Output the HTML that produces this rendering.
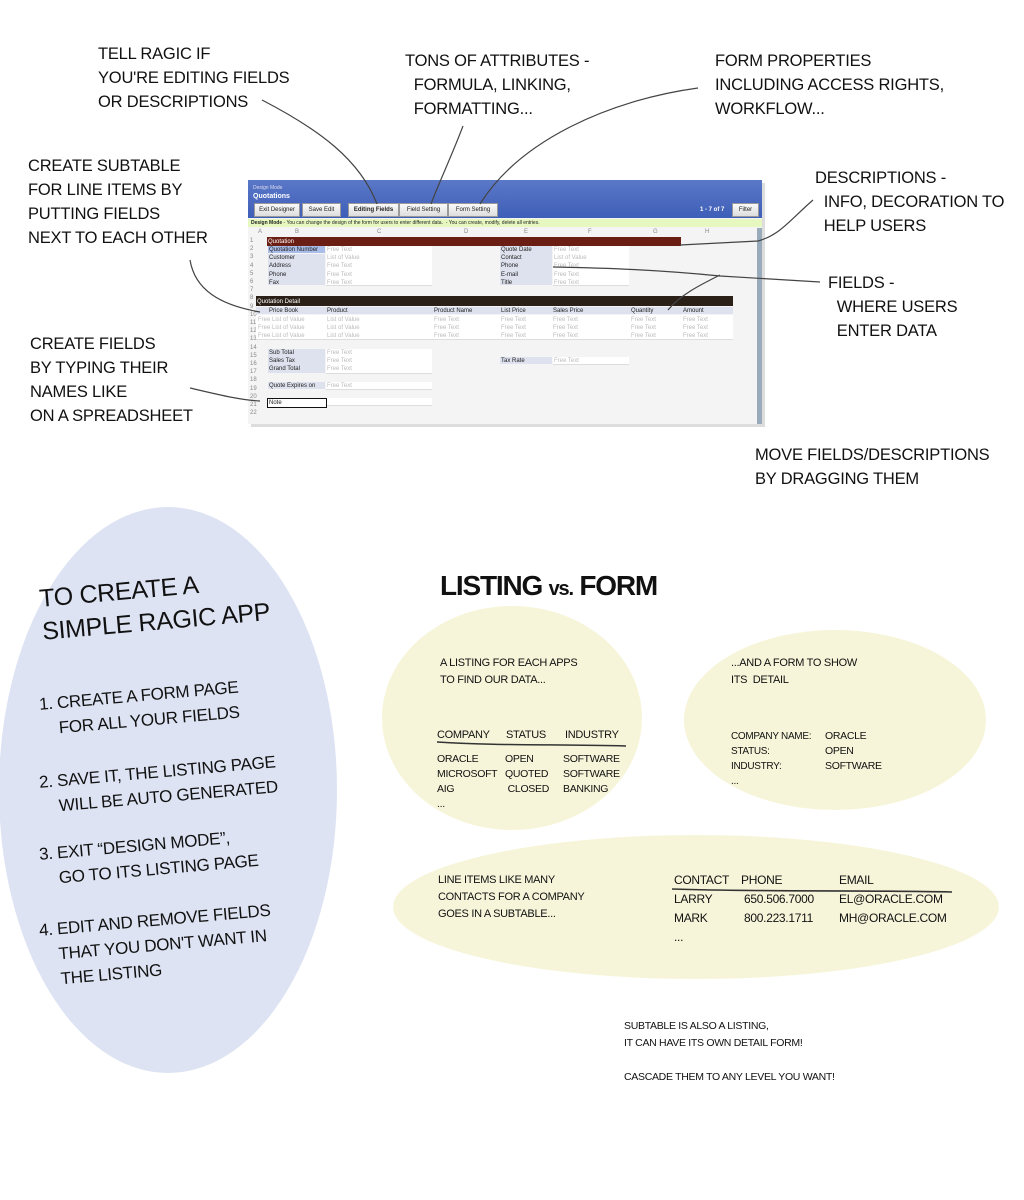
<!DOCTYPE html>
<html><head><meta charset="utf-8"><style>
body{margin:0;background:#fff}
#p{position:relative;width:1024px;height:1200px;overflow:hidden;font-family:"Liberation Sans",sans-serif;color:#111}
.t{position:absolute;font-size:16.5px;line-height:24px;white-space:pre;text-transform:uppercase;letter-spacing:-0.2px}
.s{position:absolute;font-size:11px;line-height:15px;white-space:pre;letter-spacing:-0.3px}
.ss{position:absolute;font-family:"Liberation Sans",sans-serif;font-size:6px;line-height:8.2px;white-space:pre;color:#222}
.g{color:#bbb}
.lb{position:absolute;background:#dde2ee;height:7px}
.fd{position:absolute;background:#fff;height:7px;border-bottom:1px solid #ddd}
.btn{position:absolute;top:203px;height:12px;background:linear-gradient(#fafafa,#ddd);border:1px solid #999;font-family:"Liberation Sans",sans-serif;font-size:6px;line-height:12px;text-align:center;color:#222}
.r{position:absolute;transform:rotate(-5deg);transform-origin:0 0;white-space:pre;letter-spacing:-0.3px}
</style></head><body><div id="p">
<svg width="1024" height="1200" style="position:absolute;left:0;top:0">
<ellipse cx="168" cy="790" rx="169" ry="283" fill="#dde3f3"/>
<ellipse cx="512" cy="718" rx="130" ry="112" fill="#f7f5d9"/>
<ellipse cx="835" cy="720" rx="151" ry="90" fill="#f7f5d9"/>
<ellipse cx="696" cy="907" rx="303" ry="72" fill="#f7f5d9"/>
<rect x="251" y="183" width="514" height="244" fill="#aaa" opacity="0.4"/>
</svg>
<div style="position:absolute;left:248px;top:180px;width:514px;height:244px;background:#f4f4f4;overflow:hidden">
<div style="position:absolute;left:0;top:0;width:514px;height:38px;background:linear-gradient(#5b78c8,#3e5fb8)"></div>
<div class="ss" style="left:5px;top:4px;color:#dde;font-size:5px">Design Mode</div>
<div class="ss" style="left:5px;top:13px;color:#fff;font-weight:bold;font-size:7px">Quotations</div>
<div class="ss" style="left:452px;top:26px;color:#fff;font-weight:bold">1 - 7 of 7</div>
<div style="position:absolute;left:0;top:39px;width:514px;height:8px;background:#e6f8c0"></div>
<div class="ss" style="left:3px;top:39px;font-size:5px"><b>Design Mode</b> - You can change the design of the form for users to enter different data.  - You can create, modify, delete all entries.</div>
<div style="position:absolute;left:509px;top:48px;width:5px;height:196px;background:#9ab"></div>
</div>
<div class="btn" style="left:254px;width:44px">Exit Designer</div>
<div class="btn" style="left:302px;width:37px">Save Edit</div>
<div class="btn" style="left:348px;width:49px"><b>Editing Fields</b></div>
<div class="btn" style="left:399px;width:47px">Field Setting</div>
<div class="btn" style="left:448px;width:48px">Form Setting</div>
<div class="btn" style="left:732px;width:25px">Filter</div>
<div class="ss g" style="left:258px;top:228px;color:#888">A</div><div class="ss" style="left:295px;top:228px;color:#888">B</div><div class="ss" style="left:377px;top:228px;color:#888">C</div><div class="ss" style="left:464px;top:228px;color:#888">D</div><div class="ss" style="left:524px;top:228px;color:#888">E</div><div class="ss" style="left:588px;top:228px;color:#888">F</div><div class="ss" style="left:653px;top:228px;color:#888">G</div><div class="ss" style="left:705px;top:228px;color:#888">H</div>
<div class="ss" style="left:250px;top:237px;color:#888">1<br>2<br>3<br>4<br>5<br>6<br>7<br>8<br>9<br>10<br>11<br>12<br>13<br>14<br>15<br>16<br>17<br>18<br>19<br>20<br>21<br>22</div>
<div style="position:absolute;left:267px;top:237px;width:414px;height:9px;background:#6b1e14"></div>
<div class="ss" style="left:268px;top:238px;color:#fff">Quotation</div>
<div style="position:absolute;left:256px;top:296px;width:477px;height:10px;background:#2a2018"></div>
<div class="ss" style="left:257px;top:298px;color:#fff">Quotation Detail</div>
<div class="lb" style="left:268px;top:246px;width:57px;background:#a9bde8"></div>
<div class="lb" style="left:268px;top:254px;width:57px;height:31px"></div>
<div class="fd" style="left:326px;top:246px;width:106px;height:39px"></div>
<div class="lb" style="left:500px;top:246px;width:52px;height:39px"></div>
<div class="fd" style="left:553px;top:246px;width:76px;height:39px"></div>
<div class="ss" style="left:269px;top:246px">Quotation Number<br>Customer<br>Address<br>Phone<br>Fax</div>
<div class="ss g" style="left:327px;top:246px">Free Text<br>List of Value<br>Free Text<br>Free Text<br>Free Text</div>
<div class="ss" style="left:501px;top:246px">Quote Date<br>Contact<br>Phone<br>E-mail<br>Title</div>
<div class="ss g" style="left:554px;top:246px">Free Text<br>List of Value<br>Free Text<br>Free Text<br>Free Text</div>
<div class="lb" style="left:256px;top:307px;width:477px"></div>
<div class="ss" style="left:269px;top:307px">Price Book</div><div class="ss" style="left:327px;top:307px">Product</div><div class="ss" style="left:434px;top:307px">Product Name</div><div class="ss" style="left:501px;top:307px">List Price</div><div class="ss" style="left:553px;top:307px">Sales Price</div><div class="ss" style="left:631px;top:307px">Quantity</div><div class="ss" style="left:683px;top:307px">Amount</div>
<div class="fd" style="left:256px;top:315px;width:477px;height:24px"></div>
<div class="ss g" style="left:258px;top:316px">Free List of Value<br>Free List of Value<br>Free List of Value</div>
<div class="ss g" style="left:327px;top:316px">List of Value<br>List of Value<br>List of Value</div>
<div class="ss g" style="left:434px;top:316px">Free Text<br>Free Text<br>Free Text</div>
<div class="ss g" style="left:501px;top:316px">Free Text<br>Free Text<br>Free Text</div>
<div class="ss g" style="left:553px;top:316px">Free Text<br>Free Text<br>Free Text</div>
<div class="ss g" style="left:631px;top:316px">Free Text<br>Free Text<br>Free Text</div>
<div class="ss g" style="left:683px;top:316px">Free Text<br>Free Text<br>Free Text</div>
<div class="lb" style="left:268px;top:349px;width:57px;height:24px"></div>
<div class="fd" style="left:326px;top:349px;width:106px;height:24px"></div>
<div class="ss" style="left:269px;top:349px">Sub Total<br>Sales Tax<br>Grand Total</div>
<div class="ss g" style="left:327px;top:349px">Free Text<br>Free Text<br>Free Text</div>
<div class="lb" style="left:500px;top:357px;width:52px"></div><div class="fd" style="left:553px;top:357px;width:76px"></div>
<div class="ss" style="left:501px;top:357px">Tax Rate</div><div class="ss g" style="left:554px;top:357px">Free Text</div>
<div class="lb" style="left:268px;top:382px;width:57px"></div><div class="fd" style="left:326px;top:382px;width:106px"></div>
<div class="ss" style="left:269px;top:382px">Quote Expires on</div><div class="ss g" style="left:327px;top:382px">Free Text</div>
<div class="fd" style="left:268px;top:398px;width:164px"></div>
<div style="position:absolute;left:267px;top:398px;width:58px;height:8px;border:1px solid #111;background:#fff"></div>
<div class="ss" style="left:269px;top:399px">Note</div>
<svg width="1024" height="1200" style="position:absolute;left:0;top:0" fill="none" stroke="#444" stroke-width="1.2">
<path d="M262 100 C320 130 360 160 377 204"/>
<path d="M463 126 C450 160 440 180 431 204"/>
<path d="M698 88 C610 100 520 140 480 204"/>
<path d="M813 200 C790 220 780 235 758 241 L680 245"/>
<path d="M820 282 L720 276 C660 270 610 268 553 267"/>
<path d="M720 275 C700 285 680 295 668 310"/>
<path d="M190 260 C195 290 220 305 260 312"/>
<path d="M190 388 C220 395 240 400 260 401"/>
<path d="M437 742 C500 746 560 744 626 746" stroke="#333" stroke-width="1.6"/>
<path d="M672 889 C760 892 860 890 952 892" stroke="#333" stroke-width="1.6"/>
</svg>
<div class="t" style="left:98px;top:42px">Tell Ragic if
You're editing fields
or descriptions</div>
<div class="t" style="left:405px;top:49px">Tons of attributes -
  formula, linking,
  formatting...</div>
<div class="t" style="left:715px;top:49px">Form properties
including access rights,
workflow...</div>
<div class="t" style="left:28px;top:154px">Create subtable
for line items by
putting fields
next to each other</div>
<div class="t" style="left:815px;top:166px">Descriptions -
  Info, decoration to
  help users</div>
<div class="t" style="left:828px;top:271px">Fields -
  where users
  enter data</div>
<div class="t" style="left:30px;top:332px">Create fields
by typing their
names like
on a spreadsheet</div>
<div class="t" style="left:755px;top:443px">Move fields/descriptions
by dragging them</div>
<div style="position:absolute;left:440px;top:570px;font-size:28px;font-weight:bold;letter-spacing:-1.2px">LISTING <span style="font-size:20px">vs.</span> FORM</div>
<div class="r" style="left:38px;top:583px;font-size:25px;line-height:33px">TO CREATE A
SIMPLE RAGIC APP</div>
<div class="r" style="left:38px;top:692px;font-size:17px;line-height:25px">1. CREATE A FORM PAGE
    FOR ALL YOUR FIELDS</div>
<div class="r" style="left:38px;top:770px;font-size:17px;line-height:25px">2. SAVE IT, THE LISTING PAGE
    WILL BE AUTO GENERATED</div>
<div class="r" style="left:38px;top:842px;font-size:17px;line-height:25px">3. EXIT “DESIGN MODE”,
    GO TO ITS LISTING PAGE</div>
<div class="r" style="left:38px;top:918px;font-size:17px;line-height:25px">4. EDIT AND REMOVE FIELDS
    THAT YOU DON'T WANT IN
    THE LISTING</div>
<div class="s" style="left:440px;top:655px;line-height:17px">A LISTING FOR EACH APPS
TO FIND OUR DATA...</div>
<div class="s" style="left:437px;top:728px">COMPANY</div><div class="s" style="left:506px;top:728px">STATUS</div><div class="s" style="left:565px;top:728px">INDUSTRY</div>
<div class="s" style="left:437px;top:752px;font-size:10.5px">ORACLE
MICROSOFT
AIG
...</div>
<div class="s" style="left:505px;top:752px;font-size:10.5px">OPEN
QUOTED
 CLOSED</div>
<div class="s" style="left:563px;top:752px;font-size:10.5px">SOFTWARE
SOFTWARE
BANKING</div>
<div class="s" style="left:731px;top:655px;line-height:17px">...AND A FORM TO SHOW
ITS  DETAIL</div>
<div class="s" style="left:731px;top:729px;font-size:10px">COMPANY NAME:
STATUS:
INDUSTRY:
...</div>
<div class="s" style="left:825px;top:729px;font-size:10.5px">ORACLE
OPEN
SOFTWARE</div>
<div class="s" style="left:438px;top:872px;line-height:17px">LINE ITEMS LIKE MANY
CONTACTS FOR A COMPANY
GOES IN A SUBTABLE...</div>
<div class="s" style="left:674px;top:871px;font-size:12px;line-height:19px">CONTACT
LARRY
MARK
...</div>
<div class="s" style="left:741px;top:871px;font-size:12px;line-height:19px">PHONE
 650.506.7000
 800.223.1711</div>
<div class="s" style="left:839px;top:871px;font-size:12px;line-height:19px">EMAIL
EL@ORACLE.COM
MH@ORACLE.COM</div>
<div class="s" style="left:624px;top:1018px;font-size:10.5px;line-height:17px">SUBTABLE IS ALSO A LISTING,
IT CAN HAVE ITS OWN DETAIL FORM!

CASCADE THEM TO ANY LEVEL YOU WANT!</div>
</div></body></html>
